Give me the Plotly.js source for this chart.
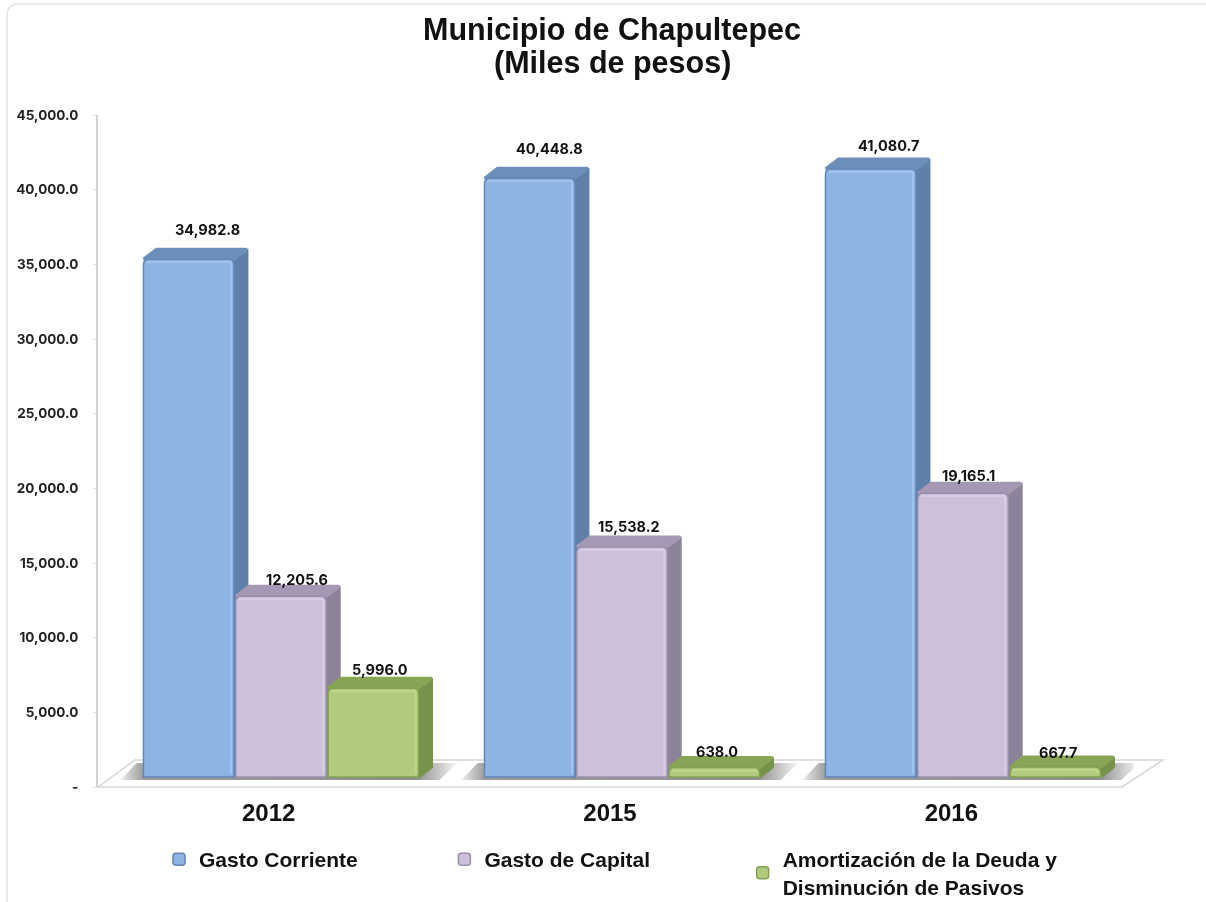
<!DOCTYPE html>
<html><head><meta charset="utf-8">
<script src="https://cdn.plot.ly/plotly-3.0.1.min.js"></script>
<style>html,body{margin:0;padding:0;background:#fff}#c{width:1206px;height:902px;filter:blur(0.5px)}</style>
</head><body><div id="c"></div>
<script>
// ---- data ----
const years = ['2012','2015','2016'];
const gastoCorriente = [34982.8, 40448.8, 41080.7];
const gastoCapital = [12205.6, 15538.2, 19165.1];
const amortizacion = [5996.0, 638.0, 667.7];
const yTicks = [0,5000,10000,15000,20000,25000,30000,35000,40000,45000];
const names = ['Gasto Corriente','Gasto de Capital','Amortización de la Deuda y<br>Disminución de Pasivos'];
const legendPad = [14,15,0];

// ---- style ----
const W=1206,H=902;
const front=['#8DB4E2','#CCC0DA','#B0CB7C'], edge=['#6486B4','#9A8EAD','#84A052'],
      side=['#5F80A8','#8C8399','#76924B'], top_=['#6C8FBA','#A598B5','#88A556'], glow=['#A8CBF2','#DDD3E8','#C4DC93'];
const uiB='Inter, "DejaVu Sans", sans-serif', arial='"Liberation Sans", Arial, sans-serif';
const pxPerGroup=341, pxPerUnit=0.0148, dxPx=13, dyPx=10;
const slot=(1-0.188)/3, halfBar=slot*0.98/2;
const dx=dxPx/pxPerGroup, dy=dyPx/pxPerUnit;
const labelDx=[[19,20,18],[16,7,5],[7,3,3]], labelDy=[[30,30,24],[17,21,18],[19,16,15]];
const series=[gastoCorriente,gastoCapital,amortizacion];
const px=(x,y)=>[x/W,1-y/H];
const rng=[-0.5,2.5];
const x2Dom=[110.5/W,1133.5/W], y2Dom=[(H-790)/H,(H-115)/H], y2Range=[-13/pxPerUnit,662/pxPerUnit];

const traces=[];
traces.push({type:'scatter',x:[0,1,2],y:[0,0,0],mode:'none',xaxis:'x',yaxis:'y',showlegend:false,hoverinfo:'skip'});
// floor shadows
years.forEach((yr,g)=>{
  const l=g-0.5+0.094-22/pxPerGroup, r=g+0.5-0.094+38/pxPerGroup, r2=r-18/pxPerGroup;
  traces.push({type:'scatter',x:[l,l+16/pxPerGroup,r,r2,l],y:[-3/pxPerUnit,14/pxPerUnit,14/pxPerUnit,-3/pxPerUnit,-3/pxPerUnit],
    mode:'lines',line:{width:0},fill:'toself',
    fillgradient:{type:'horizontal',colorscale:[[0,'#ececec'],[0.07,'#9a9a9a'],[0.88,'#8f8f8f'],[1,'#f8f8f8']]},
    xaxis:'x2',yaxis:'y2',showlegend:false,hoverinfo:'skip'});
});
// 3D top and side faces
series.forEach((vals,s)=>{
  vals.forEach((v,g)=>{
    const c=g+(s-1)*slot, L=c-halfBar, R=c+halfBar;
    traces.push({type:'scatter',x:[R,R+dx,R+dx,R,R],y:[0,dy,v+dy,v,0],mode:'lines',fill:'toself',fillcolor:side[s],
      line:{color:side[s],width:3},xaxis:'x2',yaxis:'y2',showlegend:false,hoverinfo:'skip'});
    traces.push({type:'scatter',x:[L,L+dx,R+dx,R,L],y:[v,v+dy,v+dy,v,v],mode:'lines',fill:'toself',fillcolor:top_[s],
      line:{color:top_[s],width:3},xaxis:'x2',yaxis:'y2',showlegend:false,hoverinfo:'skip'});
  });
});
// front faces
series.forEach((vals,s)=>{
  traces.push({type:'bar',name:names[s]+'\u00A0'.repeat(legendPad[s]),x:[0,1,2],y:vals,xaxis:'x3',yaxis:'y3',
    marker:{color:front[s],line:{color:edge[s],width:1.5}},hoverinfo:'y'});
});
// bevel highlight
const inX=3/pxPerGroup, inY=3/pxPerUnit;
series.forEach((vals,s)=>{
  vals.forEach((v,g)=>{
    const c=g+(s-1)*slot, L=c-halfBar+inX, R=c+halfBar-inX;
    traces.push({type:'scatter',x:[L,R,R],y:[v-inY,v-inY,Math.min(inY,v-inY)],mode:'lines',line:{color:glow[s],width:2},opacity:0.7,
      xaxis:'x3',yaxis:'y3',showlegend:false,hoverinfo:'skip'});
  });
});

const fmt=v=>v.toLocaleString('en-US',{minimumFractionDigits:1,maximumFractionDigits:1});
const annotations=[];
series.forEach((vals,s)=>vals.forEach((v,g)=>{
  annotations.push({xref:'x3',yref:'y3',x:g+(s-1)*slot,y:v,text:fmt(v),showarrow:false,xanchor:'center',yanchor:'middle',
    xshift:labelDx[s][g],yshift:labelDy[s][g],font:{family:uiB,size:14.5,color:'#111',weight:700}});
}));
annotations.push({xref:'paper',yref:'paper',x:612/W,y:1-63/H,text:'(Miles de pesos)',showarrow:false,xanchor:'center',yanchor:'middle',
  font:{family:arial,size:30.5,color:'#111',weight:700}});

const P=(x,y)=>{const p=px(x,y);return p[0]+','+p[1];};
const shapes=[
  {type:'path',xref:'paper',yref:'paper',layer:'below',
   path:`M${P(7,912)} L${P(7,16)} Q${P(7,4)} ${P(19,4)} L${P(1216,4)}`,line:{color:'#e3e3e3',width:1.5}},
  {type:'path',xref:'paper',yref:'paper',layer:'below',
   path:`M${P(98,787)} L${P(1122,787)} L${P(1163,760)} L${P(135,760)} Z`,fillcolor:'#fff',line:{color:'#d6d6d6',width:1.5}}
];

const axisOff={visible:false,fixedrange:true};
const layout={
  width:W,height:H,margin:{l:0,r:0,t:0,b:0,autoexpand:false},paper_bgcolor:'#fff',plot_bgcolor:'rgba(0,0,0,0)',
  title:{text:'Municipio de Chapultepec',font:{family:arial,size:30.5,color:'#111',weight:700},
    x:612/W,xanchor:'center',y:1-29.5/H,yanchor:'middle'},
  barmode:'group',bargap:0.188,bargroupgap:0.02,barcornerradius:5,
  xaxis:{domain:[98/W,1122/W],range:rng,tickmode:'array',tickvals:[0,1,2],ticktext:years,anchor:'y',
    showgrid:false,zeroline:false,showline:false,ticks:'',ticklabelstandoff:9,automargin:false,
    tickfont:{family:arial,size:24,color:'#111',weight:700}},
  yaxis:{domain:[(H-787)/H,(H-115)/H],range:[0,45000],tickmode:'array',tickvals:yTicks,
    ticktext:yTicks.map(v=>v===0?'-':fmt(v)),anchor:'x',automargin:false,
    showgrid:false,zeroline:false,showline:true,linecolor:'#d2d2d2',linewidth:2,ticks:'outside',ticklen:3,tickcolor:'#dcdcdc',
    ticklabelstandoff:12,tickfont:{family:uiB,size:13.5,color:'#222',weight:700}},
  xaxis2:Object.assign({domain:x2Dom,range:rng,anchor:'y2'},axisOff),
  yaxis2:Object.assign({domain:y2Dom,range:y2Range,anchor:'x2'},axisOff),
  xaxis3:Object.assign({domain:x2Dom,range:rng,anchor:'y3'},axisOff),
  yaxis3:Object.assign({domain:y2Dom,range:y2Range,anchor:'x3'},axisOff),
  showlegend:true,
  legend:{orientation:'h',x:159/W,xanchor:'left',y:1-839/H,yanchor:'top',
    font:{family:arial,size:21,color:'#111',weight:700},bgcolor:'rgba(0,0,0,0)',traceorder:'normal'},
  shapes,annotations
};
Plotly.newPlot('c',traces,layout,{displayModeBar:false,responsive:false});
</script></body></html>
